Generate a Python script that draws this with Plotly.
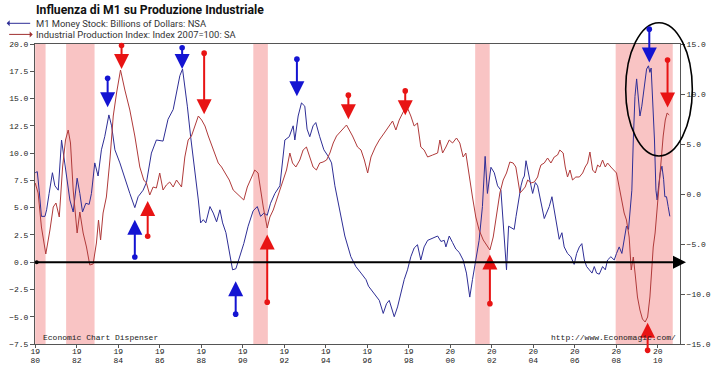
import plotly.graph_objects as go

# ---------------- data ----------------
m1_years = [1980.00,1980.10,1980.19,1980.30,1980.47,1980.55,1980.67,1980.83,1980.95,1981.11,1981.27,1981.38,1981.51,1981.67,1981.83,
            1982.02,1982.15,1982.28,1982.44,1982.60,1982.71,1982.87,1983.03,1983.19,1983.35,1983.55,1983.68,1983.84,1984.08,1984.32,
            1984.56,1984.80,1984.96,1985.20,1985.36,1985.60,1985.84,1986.16,1986.40,1986.65,1986.81,1986.97,1987.10,1987.21,1987.33,
            1987.49,1987.70,1987.86,1987.97,1988.10,1988.22,1988.42,1988.58,1988.74,1988.90,1989.03,1989.19,1989.35,1989.51,1989.67,
            1989.86,1990.05,1990.26,1990.50,1990.70,1990.86,1991.02,1991.18,1991.34,1991.55,1991.79,1992.03,1992.24,1992.43,1992.51,
            1992.67,1992.83,1992.99,1993.10,1993.23,1993.39,1993.52,1993.71,1993.91,1994.12,1994.28,1994.44,1994.60,1994.76,1994.92,
            1995.21,1995.45,1995.70,1995.94,1996.06,1996.18,1996.34,1996.58,1996.77,1996.93,1997.06,1997.19,1997.30,1997.46,1997.62,
            1997.78,1997.94,1998.10,1998.26,1998.42,1998.58,1998.74,1998.91,1999.15,1999.39,1999.55,1999.71,1999.79,1999.95,2000.11,
            2000.27,2000.43,2000.62,2000.78,2000.94,2001.07,2001.23,2001.39,2001.55,2001.68,2001.79,2001.96,2002.12,2002.28,2002.44,
            2002.60,2002.71,2002.81,2002.92,2003.08,2003.17,2003.29,2003.41,2003.49,2003.57,2003.65,2003.78,2003.89,2003.97,2004.10,
            2004.21,2004.32,2004.42,2004.53,2004.64,2004.77,2004.90,2005.01,2005.12,2005.25,2005.38,2005.49,2005.65,2005.81,2005.97,
            2006.09,2006.22,2006.34,2006.46,2006.57,2006.70,2006.83,2006.94,2007.05,2007.18,2007.34,2007.47,2007.58,2007.74,2007.90,
            2008.01,2008.14,2008.27,2008.38,2008.49,2008.59,2008.67,2008.75,2008.82,2008.90,2008.98,2009.07,2009.14,2009.23,2009.35,
            2009.46,2009.55,2009.62,2009.68,2009.78,2009.84,2009.91,2009.97,2010.04,2010.12,2010.20,2010.28,2010.34,2010.42,2010.50,
            2010.58]
m1_values = [8.2,8.3,6.6,4.2,4.2,4.8,6.3,8.2,7.0,6.6,11.2,9.7,8.2,5.7,4.6,
             7.7,6.3,4.6,5.4,5.3,6.3,9.1,7.9,10.3,11.5,13.5,12.5,10.3,9.1,7.6,
             6.3,5.0,6.0,6.6,7.3,10.0,11.2,11.1,13.1,14.0,15.5,17.1,17.7,16.1,14.3,
             11.5,8.5,5.7,3.6,3.9,3.6,5.1,4.5,3.7,4.8,3.6,2.7,0.8,-0.7,-0.6,
             0.5,1.7,3.3,4.7,5.1,4.2,4.5,4.3,5.4,6.3,7.0,11.2,11.5,12.5,11.2,
             13.4,14.6,14.3,12.2,11.5,12.5,12.8,11.5,10.3,9.7,9.1,7.0,5.4,3.9,2.4,
             0.5,-0.4,-1.0,-1.6,-2.2,-2.5,-2.8,-3.5,-4.7,-3.8,-3.5,-4.4,-5.0,-4.1,-2.8,
             -1.6,-0.7,0.5,1.3,1.6,0.2,1.4,2.0,2.2,2.4,1.9,2.0,1.4,2.4,1.8,
             1.2,0.9,0.2,-1.0,-3.2,-1.6,0.2,2.0,5.1,9.7,6.3,8.7,8.2,7.0,6.6,
             2.0,-0.7,3.3,3.2,3.0,4.2,5.7,7.0,7.6,7.9,9.3,7.9,7.0,6.3,7.3,
             7.0,6.0,5.1,4.0,4.5,5.1,6.0,4.8,3.3,2.1,2.7,1.4,0.8,0.5,-0.2,
             0.8,1.4,1.7,0.2,-0.4,-0.7,-1.0,-0.4,-1.0,-1.1,-0.4,-0.7,0.2,0.5,0.2,
             0.8,1.4,0.8,2.1,3.3,3.0,5.1,6.6,11.2,15.2,16.8,14.9,13.4,14.3,16.1,
             17.7,18.0,17.4,17.8,14.3,11.2,6.6,5.7,7.0,8.2,8.8,7.6,6.0,6.0,5.1,
             4.2]

ip_years = [1980.00,1980.14,1980.30,1980.51,1980.71,1980.87,1981.00,1981.16,1981.32,1981.46,1981.59,1981.70,1981.83,1982.02,1982.15,
            1982.31,1982.47,1982.63,1982.79,1982.95,1983.05,1983.15,1983.27,1983.43,1983.60,1983.76,1983.92,1984.11,1984.32,1984.56,
            1984.80,1985.04,1985.23,1985.36,1985.52,1985.68,1985.84,1986.00,1986.16,1986.32,1986.48,1986.65,1986.81,1987.05,1987.21,
            1987.37,1987.53,1987.70,1987.86,1988.02,1988.18,1988.34,1988.58,1988.82,1988.98,1989.14,1989.35,1989.54,1989.70,1989.86,
            1990.05,1990.22,1990.42,1990.58,1990.74,1990.86,1990.99,1991.18,1991.31,1991.47,1991.63,1991.79,1991.95,1992.11,1992.27,
            1992.40,1992.56,1992.75,1992.91,1993.07,1993.23,1993.39,1993.55,1993.71,1993.87,1994.04,1994.20,1994.36,1994.52,1994.76,
            1995.00,1995.29,1995.53,1995.70,1995.86,1996.02,1996.18,1996.39,1996.58,1996.82,1997.06,1997.22,1997.38,1997.54,1997.78,
            1997.94,1998.10,1998.26,1998.42,1998.58,1998.74,1998.91,1999.15,1999.39,1999.50,1999.63,1999.79,1999.95,2000.11,2000.30,
            2000.46,2000.62,2000.75,2000.91,2001.07,2001.23,2001.39,2001.59,2001.79,2001.91,2002.07,2002.23,2002.39,2002.55,2002.71,
            2002.87,2003.03,2003.16,2003.36,2003.49,2003.61,2003.73,2003.89,2004.05,2004.21,2004.29,2004.37,2004.53,2004.69,2004.85,
            2005.01,2005.17,2005.28,2005.44,2005.54,2005.65,2005.77,2005.89,2006.05,2006.22,2006.38,2006.50,2006.62,2006.73,2006.86,
            2006.99,2007.10,2007.21,2007.34,2007.47,2007.58,2007.74,2007.90,2008.01,2008.14,2008.27,2008.38,2008.49,2008.62,2008.72,
            2008.82,2008.91,2009.02,2009.14,2009.26,2009.39,2009.51,2009.62,2009.71,2009.78,2009.87,2009.97,2010.07,2010.16,2010.26,
            2010.36,2010.45,2010.55]
ip_values = [1.1,0.1,-3.3,-6.0,-3.6,-1.3,-0.9,-2.3,2.7,5.4,6.4,5.1,0.4,-3.9,-1.8,
             -3.9,-5.3,-7.1,-7.0,-4.9,-2.6,-4.6,-1.9,-0.3,3.4,7.8,10.1,12.4,10.4,8.4,
             5.8,2.7,1.4,1.1,-0.1,0.7,0.6,2.1,0.4,0.9,1.2,0.7,1.4,0.7,3.7,
             5.4,5.8,6.8,7.8,7.4,6.8,5.8,4.4,3.1,2.7,2.1,1.4,0.4,0.1,-0.3,
             -0.6,0.7,1.7,2.4,2.1,0.4,-1.3,-3.4,-2.3,-1.6,-0.6,0.4,1.4,2.4,4.1,
             3.1,2.7,3.4,4.4,4.7,3.7,2.7,2.4,3.1,3.2,3.4,4.1,5.1,5.8,6.4,
             6.9,5.8,4.7,4.4,3.4,2.1,3.7,4.7,5.4,6.1,6.8,7.3,6.4,7.4,8.4,
             8.6,7.8,6.8,7.1,4.7,4.4,3.7,3.9,4.1,5.4,4.1,4.7,5.4,5.1,5.6,
             5.1,3.7,4.1,1.7,-0.3,-2.3,-3.6,-4.6,-5.3,-5.6,-4.3,-2.3,0.1,1.4,2.1,
             3.2,3.1,2.7,0.1,0.4,0.7,1.4,1.1,1.2,1.7,2.4,2.9,3.1,3.6,3.1,
             3.7,3.9,4.4,4.1,2.7,1.7,2.4,1.4,1.7,1.7,2.1,2.7,3.1,4.2,2.4,
             2.1,2.9,2.7,3.4,2.7,3.1,2.7,2.4,2.1,0.7,-0.6,-1.9,-2.6,-4.3,-7.6,
             -6.3,-8.0,-10.3,-11.6,-12.5,-12.8,-12.3,-10.3,-7.3,-5.3,-3.9,-1.3,1.4,3.7,5.8,
             7.4,8.1,7.9]

recession_start = [1980.0, 1981.49, 1990.51, 2001.20, 2007.97]
recession_end = [1980.5, 1982.86, 1991.21, 2001.90, 2010.72]

tick_years = list(range(1980, 2011, 2))
tick_century = [str(y)[:2] for y in tick_years]   # upper line of each x label
tick_decade = [str(y)[2:] for y in tick_years]    # lower line of each x label

# arrows: (series, year, tail value, head value) in left-axis units
arrow_series = ["ip", "m1", "m1", "ip", "m1", "ip", "m1", "ip", "m1", "ip", "ip", "ip", "m1", "ip", "ip"]
arrow_year = [1984.16, 1983.49, 1984.80, 1985.42, 1987.08, 1988.14, 1989.66, 1991.18, 1992.61, 1995.09, 1997.83, 2001.91, 2009.59, 2010.47, 2009.51]
arrow_tail = [20.0, 17.0, 0.34, 2.24, 19.8, 19.3, -4.9, -3.8, 18.75, 15.45, 15.84, -3.94, 21.5, 18.66, -8.22]
arrow_head = [17.7, 14.2, 3.9, 5.6, 17.7, 13.55, -1.74, 2.54, 15.2, 13.1, 13.46, 0.71, 18.3, 14.17, -5.56]

# ---------------- figure ----------------
M1_COLOR = "#2e2e96"
IP_COLOR = "#b03a3a"
ARROW_COLORS = {"m1": "#1414d2", "ip": "#e81414"}
MONO = "Liberation Mono, DejaVu Sans Mono, monospace"
SANS = "Roboto, Liberation Sans, Arial, sans-serif"
X_RANGE = [1979.99, 2011.07]

fig = go.Figure()
fig.add_trace(go.Scatter(x=m1_years, y=m1_values, mode="lines",
                         line=dict(color=M1_COLOR, width=1), yaxis="y", showlegend=False))
fig.add_trace(go.Scatter(x=ip_years, y=ip_values, mode="lines",
                         line=dict(color=IP_COLOR, width=1), yaxis="y2", showlegend=False))
# empty helper trace so the second (label-only) x axis gets drawn
fig.add_trace(go.Scatter(x=[tick_years[0]], y=[None], xaxis="x2", yaxis="y", mode="markers",
                         marker=dict(opacity=0), hoverinfo="skip", showlegend=False))

shapes = []
for s, e in zip(recession_start, recession_end):
    shapes.append(dict(type="rect", xref="x", yref="paper", x0=s, x1=e, y0=0, y1=1,
                       fillcolor="#f9c4c4", line=dict(width=0), layer="below"))
# ellipse highlight (paper coords so it can extend beyond the plot frame)
shapes.append(dict(type="circle", xref="paper", yref="paper", x0=0.9158, x1=1.0191,
                   y0=0.6267, y1=1.071, line=dict(color="black", width=1.6)))

annotations = []
for s, xv, t, h in zip(arrow_series, arrow_year, arrow_tail, arrow_head):
    c = ARROW_COLORS[s]
    annotations.append(dict(x=xv, y=h, ax=xv, ay=t, xref="x", yref="y", axref="x", ayref="y",
                            text="", showarrow=True, arrowhead=2, arrowsize=1.5, arrowwidth=2,
                            arrowcolor=c, arrowside="end+start", startarrowhead=6,
                            startarrowsize=0.7, standoff=0, startstandoff=0))
# horizontal zero arrow
annotations.append(dict(x=2011.36, y=0, ax=1980.0, ay=0, xref="x", yref="y", axref="x", ayref="y",
                        text="", showarrow=True, arrowhead=2, arrowsize=1.3, arrowwidth=2,
                        arrowcolor="black", arrowside="end+start", startarrowhead=6,
                        startarrowsize=0.5, standoff=0))
# title & legend
annotations.append(dict(x=-0.0015, y=1.113, xref="paper", yref="paper", xanchor="left", yanchor="middle",
                        text="<b>Influenza di M1 su Produzione Industriale</b>", showarrow=False,
                        font=dict(family=SANS, size=12.2, color="#111")))
annotations.append(dict(x=-0.0015, y=1.069, xref="paper", yref="paper", xanchor="left", yanchor="middle",
                        text="M1 Money Stock: Billions of Dollars: NSA", showarrow=False,
                        font=dict(family=SANS, size=9.4, color="#333")))
annotations.append(dict(x=-0.0015, y=1.032, xref="paper", yref="paper", xanchor="left", yanchor="middle",
                        text="Industrial Production Index: Index 2007=100: SA", showarrow=False,
                        font=dict(family=SANS, size=9.4, color="#333")))
annotations.append(dict(x=-0.0439, y=1.069, xref="paper", yref="paper", ax=25, ay=0, text="",
                        showarrow=True, arrowhead=1, arrowsize=1, arrowwidth=1, arrowcolor="#2e2e96"))
annotations.append(dict(x=-0.0036, y=1.032, xref="paper", yref="paper", ax=-25, ay=0, text="",
                        showarrow=True, arrowhead=1, arrowsize=1, arrowwidth=1, arrowcolor="#a03030"))
# source texts
annotations.append(dict(x=0.0088, y=0.023, xref="paper", yref="paper", xanchor="left", yanchor="middle",
                        text="Economic Chart Dispenser", showarrow=False,
                        font=dict(family=MONO, size=8, color="#222")))
annotations.append(dict(x=0.9966, y=0.023, xref="paper", yref="paper", xanchor="right", yanchor="middle",
                        text="http://www.Economagic.com/", showarrow=False,
                        font=dict(family=MONO, size=8, color="#222")))

axis_common = dict(showgrid=False, zeroline=False, showline=True, linecolor="#555", linewidth=1,
                   ticks="outside", ticklen=4, tickcolor="#555", automargin=False,
                   tickfont=dict(family=MONO, size=8, color="#222"))

fig.update_layout(
    width=720, height=369,
    margin=dict(l=35, r=40, t=44, b=25, autoexpand=False),
    paper_bgcolor="white", plot_bgcolor="white",
    xaxis=dict(range=X_RANGE, tickmode="array", tickvals=tick_years, ticktext=tick_century,
               mirror=True, ticklabelstandoff=-4, **{**axis_common, "ticklen": 3}),
    xaxis2=dict(range=X_RANGE, tickmode="array", tickvals=tick_years, ticktext=tick_decade,
                overlaying="x", side="bottom", anchor="y", showgrid=False, zeroline=False,
                showline=False, ticks="", ticklabelstandoff=10, automargin=False,
                tickfont=dict(family=MONO, size=8, color="#222")),
    yaxis=dict(range=[-7.5, 20], tickmode="linear", tick0=-7.5, dtick=2.5, tickformat=".1f", **axis_common),
    yaxis2=dict(range=[-15, 15], tickmode="linear", tick0=-15, dtick=5, tickformat=".1f",
                overlaying="y", side="right", **axis_common),
    shapes=shapes, annotations=annotations, showlegend=False,
)

fig.write_html("out.html", config={"displayModeBar": False},
               post_script="document.body.style.margin='0';document.body.style.padding='0';document.body.style.overflow='hidden';")
